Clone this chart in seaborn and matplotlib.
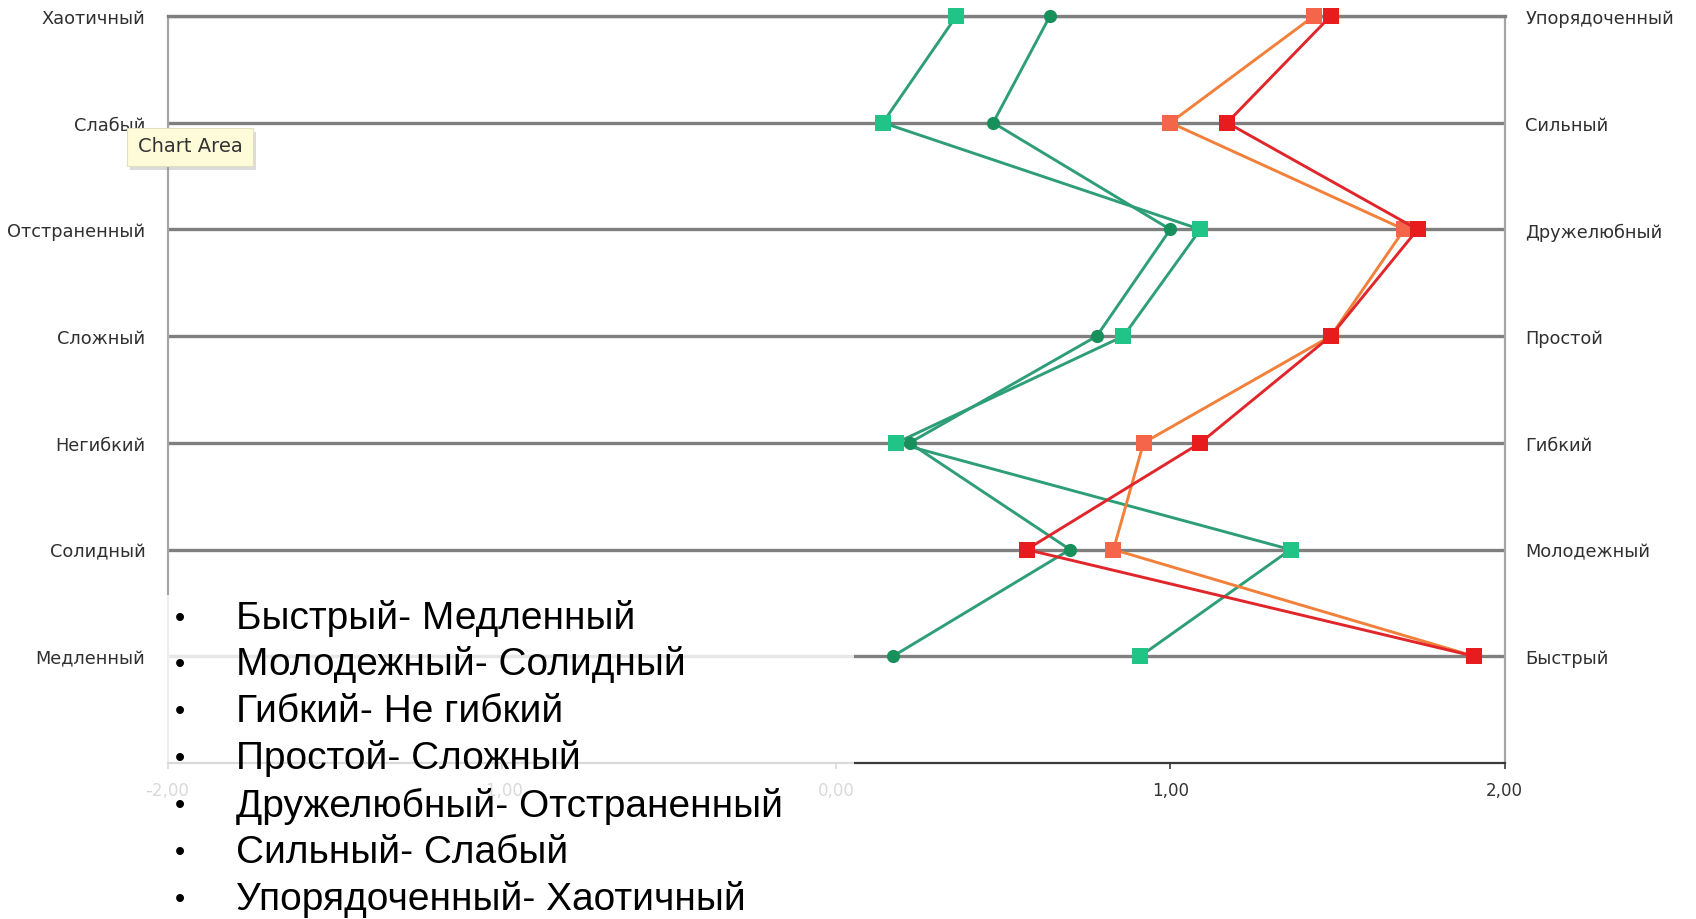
import matplotlib
matplotlib.use("Agg")
import matplotlib.pyplot as plt
import seaborn as sns
import numpy as np
from matplotlib import font_manager
from matplotlib.patches import Rectangle

# ---------------- data ----------------
left_labels = ["Хаотичный", "Слабый", "Отстраненный", "Сложный",
               "Негибкий", "Солидный", "Медленный"]
right_labels = ["Упорядоченный", "Сильный", "Дружелюбный", "Простой",
                "Гибкий", "Молодежный", "Быстрый"]
green_square = [0.36, 0.14, 1.09, 0.86, 0.18, 1.36, 0.91]
green_circle = [0.64, 0.47, 1.00, 0.78, 0.22, 0.70, 0.17]
orange_vals = [1.43, 1.00, 1.70, 1.48, 0.92, 0.83, 1.91]
red_vals = [1.48, 1.17, 1.74, 1.48, 1.09, 0.57, 1.91]
x_ticks = [-2, -1, 0, 1, 2]
x_tick_labels = ["-2,00", "-1,00", "0,00", "1,00", "2,00"]
bullets = ["Быстрый- Медленный", "Молодежный- Солидный", "Гибкий- Не гибкий",
           "Простой- Сложный", "Дружелюбный- Отстраненный", "Сильный- Слабый",
           "Упорядоченный- Хаотичный"]
tooltip_text = "Chart Area"

sns.set_style("white")
plt.rcParams["font.family"] = ["DejaVu Sans"]

names = {f.name for f in font_manager.fontManager.ttflist}
if "Liberation Sans Narrow" in names:
    bullet_font, bullet_size = "Liberation Sans Narrow", 33
else:
    bullet_font, bullet_size = "Liberation Sans", 28

W, H = 1696, 920
fig = plt.figure(figsize=(W / 100, H / 100), dpi=100)
ax = fig.add_axes([167.6 / W, 1 - 764 / H, (1504.5 - 167.6) / W, (764 - 17) / H])

pos = np.arange(len(left_labels))

series = [
    (green_square, "#2e9e78", "#1fc486", "s", 11),
    (green_circle, "#2e9e78", "#17905c", "o", 9.5),
    (orange_vals, "#f2803a", "#f5654a", "s", 11),
    (red_vals, "#e0262a", "#e81c1c", "s", 11),
]
for vals, lc, mc, mk, ms in series:
    sns.lineplot(x=vals, y=pos, sort=False, estimator=None, ax=ax,
                 color=lc, linewidth=2.1, marker=mk, markersize=ms,
                 markerfacecolor=mc, markeredgewidth=0, zorder=3,
                 clip_on=False)

ax.set_xlim(-2, 2)
ax.set_ylim(len(left_labels), 0)
ax.set_xticks(x_ticks)
ax.set_xticklabels(x_tick_labels)
ax.set_yticks(pos)
ax.set_yticklabels(left_labels)
ax.set_xlabel("")
ax.set_ylabel("")

ax.yaxis.grid(True, color="#7f7f7f", linewidth=2.4, zorder=1)
ax.xaxis.grid(False)
ax.set_axisbelow(True)

for side in ["left", "right"]:
    ax.spines[side].set_color("#a5a5a5")
    ax.spines[side].set_linewidth(1.6)
ax.spines["top"].set_color("#7f7f7f")
ax.spines["top"].set_linewidth(2.4)
ax.spines["bottom"].set_color("#3a3a3a")
ax.spines["bottom"].set_linewidth(1.6)

ax.tick_params(axis="y", length=0, pad=16, labelsize=12.8, labelcolor="#303030")
ax.tick_params(axis="x", length=4, width=1.2, color="#3a3a3a", direction="out",
               pad=9, labelsize=12, labelcolor="#333333", bottom=True)

ax2 = ax.twinx()
ax2.set_ylim(ax.get_ylim())
ax2.set_yticks(pos)
ax2.set_yticklabels(right_labels)
ax2.tick_params(axis="y", length=0, pad=15, labelsize=12.8, labelcolor="#303030")
for s in ax2.spines.values():
    s.set_visible(False)
ax2.grid(False)

# semi-transparent white overlay with bullet list
fig.add_artist(Rectangle((148 / W, 0), (854 - 148) / W, (920 - 596) / H,
                         transform=fig.transFigure, facecolor="white",
                         edgecolor="none", alpha=0.82, zorder=5))
line_y = [619, 665, 712, 759, 806, 853, 900]
for txt, yy in zip(bullets, line_y):
    fig.text(180 / W, 1 - yy / H, "•", ha="center", va="center",
             family=[bullet_font, "DejaVu Sans"], fontsize=bullet_size * 0.75,
             color="black", zorder=6)
    fig.text(236 / W, 1 - yy / H, txt, ha="left", va="center",
             family=[bullet_font, "DejaVu Sans"], fontsize=bullet_size,
             color="black", zorder=6)

# tooltip "Chart Area"
fig.add_artist(Rectangle((130 / W, 1 - 171 / H), 126 / W, 38 / H,
                         transform=fig.transFigure, facecolor="#999999",
                         edgecolor="none", alpha=0.35, zorder=7))
fig.add_artist(Rectangle((127 / W, 1 - 167 / H), 126 / W, 38 / H,
                         transform=fig.transFigure, facecolor="#fdfbd8",
                         edgecolor="#e2e0c0", linewidth=0.8, zorder=8))
fig.text(190 / W, 1 - 147 / H, tooltip_text, ha="center", va="center",
         fontsize=14, color="#333333", zorder=9)

fig.savefig("out.png", dpi=100, facecolor="white")
